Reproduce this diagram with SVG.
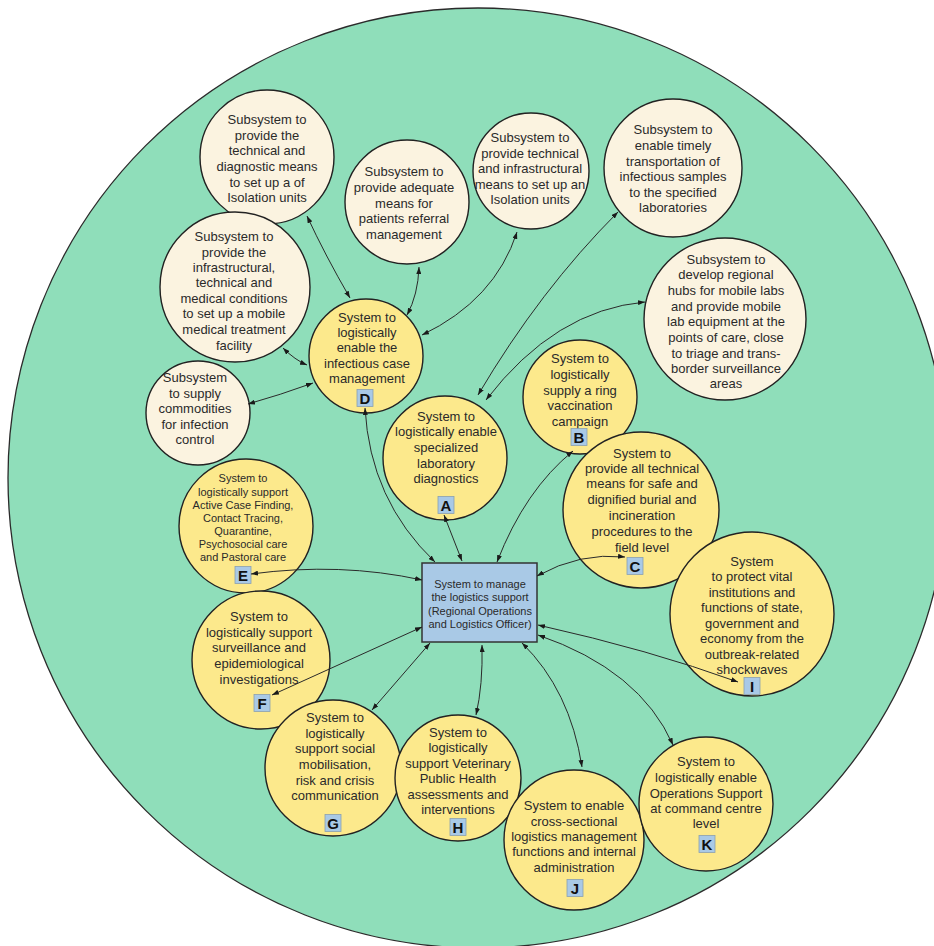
<svg xmlns="http://www.w3.org/2000/svg" width="934" height="946" viewBox="0 0 934 946">
<defs>
<style>
.bg{fill:#8FDEBA;stroke:#2b2b2b;stroke-width:1.3}
.sub{fill:#FBF3E0;stroke:#222;stroke-width:1.4}
.sys{fill:#FCE98C;stroke:#222;stroke-width:1.4}
.box{fill:#A9C9E6;stroke:#333;stroke-width:1.5}
.lbl{fill:#A9C9E6;stroke:#8aa0b0;stroke-width:0.8}
text{font-family:"Liberation Sans",Arial,sans-serif;fill:#2a2a2a;text-anchor:middle}
.t{font-size:13px}
.s{font-size:11px}
.L{font-size:15px;font-weight:bold;fill:#111}
.c{fill:none;stroke:#2a2a2a;stroke-width:1;marker-start:url(#ah);marker-end:url(#ah)}
</style>
<marker id="ah" markerUnits="userSpaceOnUse" markerWidth="7" markerHeight="5" refX="7" refY="2.5" orient="auto-start-reverse">
<path d="M0,0 L7,2.5 L0,5 z" fill="#1a1a1a"/>
</marker>
</defs>
<circle class="bg" cx="478" cy="478" r="470"/>

<g id="sub-isolation-diagnostic">
<circle class="sub" cx="267" cy="157" r="67"/>
<text class="t" x="267" y="124">Subsystem to</text>
<text class="t" x="267" y="139.5">provide the</text>
<text class="t" x="267" y="155">technical and</text>
<text class="t" x="267" y="171">diagnostic means</text>
<text class="t" x="267" y="187">to set up a of</text>
<text class="t" x="267" y="202">Isolation units</text>
</g>
<g id="sub-referral">
<circle class="sub" cx="407" cy="202" r="62"/>
<text class="t" x="404" y="176">Subsystem to</text>
<text class="t" x="404" y="192">provide adequate</text>
<text class="t" x="404" y="208">means for</text>
<text class="t" x="404" y="223">patients referral</text>
<text class="t" x="404" y="239">management</text>
</g>
<g id="sub-mobile-treatment">
<circle class="sub" cx="235" cy="287" r="75"/>
<text class="t" x="234" y="240.5">Subsystem to</text>
<text class="t" x="234" y="256.5">provide the</text>
<text class="t" x="234" y="271.5">infrastructural,</text>
<text class="t" x="234" y="286.5">technical and</text>
<text class="t" x="234" y="302.5">medical conditions</text>
<text class="t" x="234" y="317.5">to set up a mobile</text>
<text class="t" x="234" y="333.5">medical treatment</text>
<text class="t" x="234" y="349.5">facility</text>
</g>
<g id="sub-commodities">
<circle class="sub" cx="198" cy="413" r="52"/>
<text class="t" x="195" y="381.5">Subsystem</text>
<text class="t" x="195" y="397.5">to supply</text>
<text class="t" x="195" y="412.5">commodities</text>
<text class="t" x="195" y="428.5">for infection</text>
<text class="t" x="195" y="443.5">control</text>
</g>
<g id="sub-isolation-infra">
<circle class="sub" cx="531" cy="171" r="58"/>
<text class="t" x="530" y="141.5">Subsystem to</text>
<text class="t" x="530" y="157.5">provide technical</text>
<text class="t" x="530" y="172.5">and infrastructural</text>
<text class="t" x="530" y="188.5">means to set up an</text>
<text class="t" x="530" y="203.5">Isolation units</text>
</g>
<g id="sub-transport">
<circle class="sub" cx="673" cy="168" r="69"/>
<text class="t" x="673" y="133.5">Subsystem to</text>
<text class="t" x="673" y="149.5">enable timely</text>
<text class="t" x="673" y="165.5">transportation of</text>
<text class="t" x="673" y="180.5">infectious samples</text>
<text class="t" x="673" y="196.5">to the specified</text>
<text class="t" x="673" y="211.5">laboratories</text>
</g>
<g id="sub-hubs">
<circle class="sub" cx="725" cy="319" r="81"/>
<text class="t" x="726" y="263.5">Subsystem to</text>
<text class="t" x="726" y="278.5">develop regional</text>
<text class="t" x="726" y="294.5">hubs for mobile labs</text>
<text class="t" x="726" y="310.5">and provide mobile</text>
<text class="t" x="726" y="325.5">lab equipment at the</text>
<text class="t" x="726" y="341.5">points of care, close</text>
<text class="t" x="726" y="357.5">to triage and trans-</text>
<text class="t" x="726" y="372.5">border surveillance</text>
<text class="t" x="726" y="387.5">areas</text>
</g>

<g id="node-D">
<circle class="sys" cx="366" cy="356" r="57"/>
<text class="t" x="367" y="321.5">System to</text>
<text class="t" x="367" y="336.5">logistically</text>
<text class="t" x="367" y="351.5">enable the</text>
<text class="t" x="367" y="367.5">infectious case</text>
<text class="t" x="367" y="382.5">management</text>
<rect class="lbl" x="357" y="389.5" width="16" height="17"/>
<text class="L" x="365" y="403.5">D</text>
</g>
<g id="node-A">
<circle class="sys" cx="445" cy="458" r="62"/>
<text class="t" x="446" y="420.5">System to</text>
<text class="t" x="446" y="435.5">logistically enable</text>
<text class="t" x="446" y="451.5">specialized</text>
<text class="t" x="446" y="467.5">laboratory</text>
<text class="t" x="446" y="482.5">diagnostics</text>
<rect class="lbl" x="438" y="496.5" width="16" height="17"/>
<text class="L" x="446" y="510.5">A</text>
</g>
<g id="node-B">
<circle class="sys" cx="580" cy="397" r="57"/>
<text class="t" x="580" y="362.5">System to</text>
<text class="t" x="580" y="378.5">logistically</text>
<text class="t" x="580" y="394.5">supply a ring</text>
<text class="t" x="580" y="409.5">vaccination</text>
<text class="t" x="580" y="425.5">campaign</text>
<rect class="lbl" x="571" y="428.5" width="16" height="17"/>
<text class="L" x="579" y="442.5">B</text>
</g>
<g id="node-C">
<circle class="sys" cx="641" cy="510" r="78"/>
<text class="t" x="642" y="457.5">System to</text>
<text class="t" x="642" y="472.5">provide all technical</text>
<text class="t" x="642" y="487.5">means for safe and</text>
<text class="t" x="642" y="503.5">dignified burial and</text>
<text class="t" x="642" y="519.5">incineration</text>
<text class="t" x="642" y="535.5">procedures to the</text>
<text class="t" x="642" y="551.5">field level</text>
<rect class="lbl" x="627" y="557.5" width="16" height="17"/>
<text class="L" x="635" y="571.5">C</text>
</g>
<g id="node-I">
<circle class="sys" cx="752" cy="614" r="82"/>
<text class="t" x="752" y="565.5">System</text>
<text class="t" x="752" y="580.5">to protect vital</text>
<text class="t" x="752" y="596.5">institutions and</text>
<text class="t" x="752" y="611.5">functions of state,</text>
<text class="t" x="752" y="627.5">government and</text>
<text class="t" x="752" y="642.5">economy from the</text>
<text class="t" x="752" y="658.5">outbreak-related</text>
<text class="t" x="752" y="673.5">shockwaves</text>
<rect class="lbl" x="744" y="677.5" width="16" height="17"/>
<text class="L" x="752" y="691.5">I</text>
</g>
<g id="node-E">
<circle class="sys" cx="246" cy="526" r="67"/>
<text class="s" x="243" y="482">System to</text>
<text class="s" x="243" y="496">logistically support</text>
<text class="s" x="243" y="509">Active Case Finding,</text>
<text class="s" x="243" y="522">Contact Tracing,</text>
<text class="s" x="243" y="535">Quarantine,</text>
<text class="s" x="243" y="548">Psychosocial care</text>
<text class="s" x="243" y="561">and Pastoral care</text>
<rect class="lbl" x="235" y="566.5" width="16" height="17"/>
<text class="L" x="243" y="580.5">E</text>
</g>
<g id="node-F">
<circle class="sys" cx="261" cy="660" r="69"/>
<text class="t" x="259" y="620.5">System to</text>
<text class="t" x="259" y="636.5">logistically support</text>
<text class="t" x="259" y="651.5">surveillance and</text>
<text class="t" x="259" y="667.5">epidemiological</text>
<text class="t" x="259" y="683.5">investigations</text>
<rect class="lbl" x="254" y="694.5" width="16" height="17"/>
<text class="L" x="262" y="708.5">F</text>
</g>
<g id="node-G">
<circle class="sys" cx="333" cy="768" r="68"/>
<text class="t" x="335" y="721.5">System to</text>
<text class="t" x="335" y="737.5">logistically</text>
<text class="t" x="335" y="752.5">support social</text>
<text class="t" x="335" y="768.5">mobilisation,</text>
<text class="t" x="335" y="784.5">risk and crisis</text>
<text class="t" x="335" y="799.5">communication</text>
<rect class="lbl" x="325" y="814.5" width="16" height="17"/>
<text class="L" x="333" y="828.5">G</text>
</g>
<g id="node-H">
<circle class="sys" cx="458" cy="778" r="63"/>
<text class="t" x="458" y="736.5">System to</text>
<text class="t" x="458" y="751.5">logistically</text>
<text class="t" x="458" y="767.5">support Veterinary</text>
<text class="t" x="458" y="782.5">Public Health</text>
<text class="t" x="458" y="798.5">assessments and</text>
<text class="t" x="458" y="813.5">interventions</text>
<rect class="lbl" x="450" y="818.5" width="16" height="17"/>
<text class="L" x="458" y="832.5">H</text>
</g>
<g id="node-J">
<circle class="sys" cx="574" cy="840" r="70"/>
<text class="t" x="574" y="809.5">System to enable</text>
<text class="t" x="574" y="825.5">cross-sectional</text>
<text class="t" x="574" y="840.5">logistics management</text>
<text class="t" x="574" y="855.5">functions and internal</text>
<text class="t" x="574" y="871.5">administration</text>
<rect class="lbl" x="567" y="879.5" width="16" height="17"/>
<text class="L" x="575" y="893.5">J</text>
</g>
<g id="node-K">
<circle class="sys" cx="706" cy="804" r="67"/>
<text class="t" x="706" y="765.5">System to</text>
<text class="t" x="706" y="781.5">logistically enable</text>
<text class="t" x="706" y="797.5">Operations Support</text>
<text class="t" x="706" y="812.5">at command centre</text>
<text class="t" x="706" y="827.5">level</text>
<rect class="lbl" x="699" y="835.5" width="16" height="17"/>
<text class="L" x="707" y="849.5">K</text>
</g>
<g id="node-center">
<rect class="box" x="422" y="563" width="115" height="79"/>
<text class="s" x="480" y="588">System to manage</text>
<text class="s" x="480" y="601">the logistics support</text>
<text class="s" x="480" y="615">(Regional Operations</text>
<text class="s" x="480" y="628">and Logistics Officer)</text>
</g>

<g id="connectors">
<path class="c" d="M307,216 Q325,255 350,298"/>
<path class="c" d="M419,267 Q418,295 407,315"/>
<path class="c" d="M517,232 Q495,300 422,335"/>
<path class="c" d="M283,348 Q295,360 307,365"/>
<path class="c" d="M248,404 Q280,395 313,383"/>
<path class="c" d="M618,212 Q540,290 478,395"/>
<path class="c" d="M645,302 Q555,310 486,400"/>
<path class="c" d="M365,408 Q370,500 435,562"/>
<path class="c" d="M444,515 L462,561"/>
<path class="c" d="M573,451 Q525,490 497,562"/>
<path class="c" d="M537,576 Q580,552 625,557"/>
<path class="c" d="M251,574 Q340,562 422,580"/>
<path class="c" d="M422,627 L272,695"/>
<path class="c" d="M430,643 L372,710"/>
<path class="c" d="M482,645 Q483,685 476,715"/>
<path class="c" d="M522,643 Q570,690 582,767"/>
<path class="c" d="M538,635 Q640,670 673,745"/>
<path class="c" d="M538,625 Q650,650 738,682"/>
</g>
</svg>
